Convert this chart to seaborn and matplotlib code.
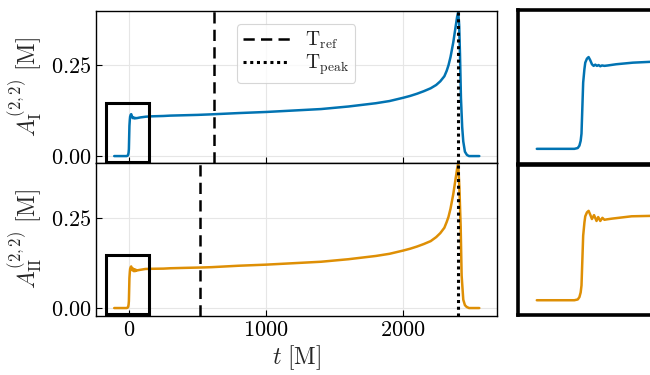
import matplotlib
matplotlib.use("Agg")
import matplotlib.pyplot as plt
import seaborn as sns
from matplotlib.patches import Rectangle

# ---- data ----
t_I = [-110, -20, -12, -8, -5, -3, 1, 4, 6, 10, 14, 18, 22, 26, 30, 34, 38, 42,
       46, 52, 60, 80, 120, 160, 250, 300, 400, 500, 600, 800, 1000, 1200, 1400,
       1600, 1800, 1900, 2000, 2050, 2100, 2150, 2200, 2240, 2270, 2300, 2317,
       2330, 2345, 2355, 2365, 2375, 2385, 2393, 2401, 2408, 2414, 2421, 2430,
       2438, 2450, 2465, 2480, 2555]
amp_I = [0.0, 0.0, 0.001, 0.004, 0.010, 0.019, 0.083, 0.100, 0.108, 0.113,
         0.115, 0.111, 0.106, 0.104, 0.1055, 0.104, 0.105, 0.1035, 0.1045,
         0.104, 0.1045, 0.106, 0.108, 0.109, 0.110, 0.111, 0.112, 0.113,
         0.1145, 0.118, 0.121, 0.125, 0.129, 0.136, 0.145, 0.151, 0.160, 0.165,
         0.171, 0.178, 0.186, 0.195, 0.205, 0.219, 0.234, 0.249, 0.272, 0.292,
         0.312, 0.337, 0.362, 0.382, 0.395, 0.36, 0.28, 0.16, 0.08, 0.04, 0.012,
         0.003, 0.0, 0.0]

t_II = [-110, -20, -12, -8, -5, -3, 1, 4, 6, 10, 14, 18, 22, 27, 33, 37, 42, 47,
        52, 57, 70, 117, 160, 250, 300, 400, 517, 600, 800, 1000, 1200, 1400,
        1600, 1800, 1900, 2000, 2050, 2100, 2150, 2200, 2240, 2270, 2300, 2317,
        2330, 2345, 2355, 2365, 2375, 2385, 2393, 2401, 2410, 2419, 2426, 2438,
        2450, 2463, 2480, 2555]
amp_II = [0.0, 0.0, 0.001, 0.004, 0.010, 0.019, 0.083, 0.100, 0.108, 0.113,
          0.115, 0.110, 0.1045, 0.1095, 0.102, 0.107, 0.102, 0.106, 0.1035,
          0.104, 0.105, 0.108, 0.1085, 0.109, 0.110, 0.111, 0.112, 0.113, 0.117,
          0.120, 0.124, 0.128, 0.135, 0.144, 0.150, 0.159, 0.164, 0.170, 0.177,
          0.185, 0.196, 0.207, 0.222, 0.238, 0.252, 0.275, 0.295, 0.315, 0.340,
          0.365, 0.385, 0.400, 0.33, 0.225, 0.09, 0.023, 0.008, 0.003, 0.0, 0.0]

t_ref_I = 619
t_ref_II = 517
t_peak = 2401
xticks = [0, 1000, 2000]
yticks = [0.0, 0.25]
legend_labels = [r"$\mathrm{T}_{\mathrm{ref}}$", r"$\mathrm{T}_{\mathrm{peak}}$"]
ylabels = [r"$A_{\mathrm{I}}^{(2,2)}\ [\mathrm{M}]$", r"$A_{\mathrm{II}}^{(2,2)}\ [\mathrm{M}]$"]
xlabel = r"$t\ [\mathrm{M}]$"

# ---- style ----
sns.set_style("ticks")
plt.rcParams.update({
    "font.family": ["serif"],
    "font.serif": ["cmr10", "DejaVu Serif"],
    "mathtext.fontset": "cm",
    "axes.formatter.use_mathtext": True,
    "axes.unicode_minus": False,
    "axes.edgecolor": "black",
    "axes.linewidth": 1.0,
    "xtick.direction": "in",
    "ytick.direction": "in",
    "xtick.color": "black",
    "ytick.color": "black",
})

blue = "#0173b2"
orange = "#de8f05"

fig = plt.figure(figsize=(6.5, 3.75), dpi=100)
left, width = 96 / 650, (496.7 - 96) / 650
top_y = 1 - 11 / 375
mid_y = 1 - 163 / 375
bot_y = 1 - 316 / 375
ax1 = fig.add_axes([left, mid_y, width, top_y - mid_y])
ax2 = fig.add_axes([left, bot_y, width, mid_y - bot_y], sharex=ax1)

ins_left = 518 / 650
ins_w = 160 / 650
ins1 = fig.add_axes([ins_left, 1 - 164 / 375, ins_w, (164 - 10) / 375])
ins2 = fig.add_axes([ins_left, 1 - 315 / 375, ins_w, (315 - 165) / 375])

series = [(ax1, ins1, t_I, amp_I, blue, t_ref_I, (-0.019, 0.398)),
          (ax2, ins2, t_II, amp_II, orange, t_ref_II, (-0.022, 0.401))]

for i, (ax, ins, t, a, c, tref, ylim) in enumerate(series):
    sns.lineplot(x=t, y=a, ax=ax, color=c, linewidth=1.8, estimator=None, sort=False)
    ax.axvline(tref, color="black", linestyle=(0, (4.5, 2.5)), linewidth=1.8,
               label=legend_labels[0])
    ax.axvline(t_peak, color="black", linestyle=(0, (1, 1.2)), linewidth=2.2,
               label=legend_labels[1])
    ax.add_patch(Rectangle((-170, -0.016), 316, 0.162, fill=False,
                           edgecolor="black", linewidth=2.2, zorder=5))
    ax.set_xlim(-243, 2682)
    ax.set_ylim(*ylim)
    ax.set_yticks(yticks)
    ax.set_xticks(xticks)
    ax.grid(True, color="#e6e6e6", linewidth=0.8)
    ax.set_axisbelow(True)
    ax.tick_params(labelsize=16, length=4, width=0.8)
    ax.set_ylabel(ylabels[i], fontsize=17, labelpad=4)

    sns.lineplot(x=t, y=a, ax=ins, color=c, linewidth=1.8, estimator=None, sort=False)
    ins.set_xlim(-155, 228)
    ins.set_ylim(-0.019, 0.174)
    ins.set_xticks([])
    ins.set_yticks([])
    ins.set_xlabel("")
    ins.set_ylabel("")
    for s in ins.spines.values():
        s.set_linewidth(2.6)
        s.set_color("black")

ax1.tick_params(labelbottom=False)
ax1.set_xlabel("")
ax2.set_xlabel(xlabel, fontsize=17, labelpad=2)

leg = ax1.legend(loc="upper center", bbox_to_anchor=(0.5, 0.98), fontsize=14,
                 frameon=True, fancybox=True, handlelength=2.4,
                 labelspacing=0.1, borderpad=0.3, handletextpad=0.8)
leg.get_frame().set_edgecolor("#cccccc")
leg.get_frame().set_linewidth(0.8)

fig.savefig("out.png", dpi=100)
